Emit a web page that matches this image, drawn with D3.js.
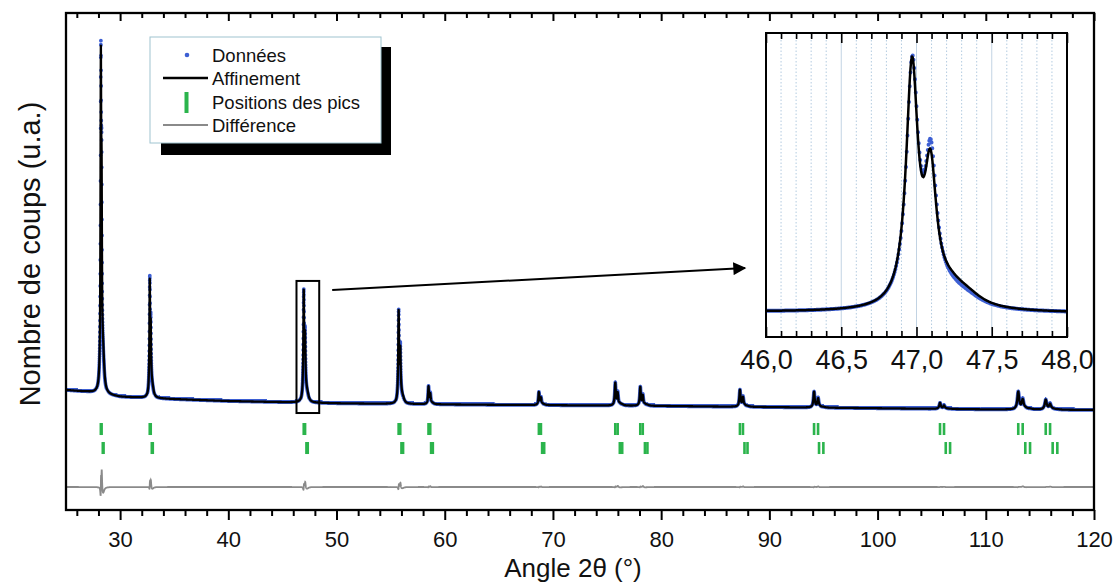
<!DOCTYPE html>
<html><head><meta charset="utf-8">
<script src="https://cdn.jsdelivr.net/npm/d3@7"></script>
<style>
body{margin:0;background:#fff}
svg text{font-family:Arial,"Liberation Sans",Helvetica,sans-serif;fill:#111}
</style>
</head><body>
<svg id="chart" width="1117" height="583"></svg>
<script>
// ---------------- data ----------------
const xTicks = [30,40,50,60,70,80,90,100,110,120];
const insetTicks = [46.0,46.5,47.0,47.5,48.0];
const insetTickLabels = ["46,0","46,5","47,0","47,5","48,0"];
// phase 1 reflections (Ka1 / Ka2), apparent heights above background (counts)
const peakPos   = [28.22,32.74,46.97,55.74,58.50,68.70,75.76,78.07,87.28,94.13,105.77,113.00,115.54];
const peakKa2   = [28.29,32.83,47.093,55.89,58.66,68.89,75.98,78.30,87.56,94.50,106.14,113.41,115.94];
const calcHeights = [9160,3140,2974,2475,475,345,605,500,450,420,160,475,265];
const obsHeights  = [9260,3220,2985,2490,480,345,610,505,450,420,160,475,265];
const peakFWHM  = [0.08,0.08,0.095,0.095,0.095,0.105,0.115,0.115,0.13,0.14,0.17,0.20,0.21];
// phase 2 reflections (second row of ticks)
const phase2Pos = [28.40,32.93,47.22,56.00,58.74,69.00,76.18,78.50,87.70,94.59,106.30,113.65,116.18];
const phase2Ka2 = [28.47,33.02,47.34,56.15,58.90,69.19,76.40,78.73,87.98,94.99,106.70,114.09,116.61];
const phase2Calc = [650,220,200,170,33,24,42,35,31,29,11,33,18];
const phase2Obs  = [490,165,150,128,25,18,32,26,23,22,8,25,14];
const phase2FWHM = [0.22,0.23,0.25,0.26,0.26,0.28,0.30,0.30,0.33,0.36,0.42,0.48,0.50];
// background anchors
const bgAngle  = [25,27,30,35,40,50,60,70,80,90,100,110,120];
const bgCounts = [790,740,610,550,500,440,410,390,370,340,310,280,265];
// refinement constants
const ka2Calc = 0.52, ka2Obs = 0.57, obsZeroShift = 0.002, stepDeg = 0.005;
const diffOffset = -1763;
// zoom box & arrow (data coordinates of the main chart)
const zoomBox = {x0:46.3, x1:48.4, c0:184, c1:3660};
const arrowFrom = [49.6, 3421], arrowTo = [87.75, 4000];
const legendItems = ["Données","Affinement","Positions des pics","Différence"];

// ---------------- model ----------------
const bg = d3.scaleLinear().domain(bgAngle).range(bgCounts);
function shape(d, w){ const u = d/(w/2); return 1/(1+u*u); }
function makeProfile(heights, ratio, p2h, shift){
  const h1 = heights.map((H,i)=>{
    const p2 = p2h[i]*(shape(peakPos[i]-phase2Pos[i],phase2FWHM[i]) + ratio*shape(peakPos[i]-phase2Ka2[i],phase2FWHM[i]));
    return (H - p2) / (1 + ratio*shape(peakKa2[i]-peakPos[i], peakFWHM[i]));
  });
  return t => {
    let s = bg(t);
    for (let i=0;i<peakPos.length;i++){
      const a = peakPos[i]+shift, b = peakKa2[i]+shift;
      if (Math.abs(t-a) < 8) s += h1[i]*(shape(t-a,peakFWHM[i]) + ratio*shape(t-b,peakFWHM[i]));
      const c = phase2Pos[i]+shift, e = phase2Ka2[i]+shift;
      if (Math.abs(t-c) < 8) s += p2h[i]*(shape(t-c,phase2FWHM[i]) + ratio*shape(t-e,phase2FWHM[i]));
    }
    return s;
  };
}
const calcF = makeProfile(calcHeights, ka2Calc, phase2Calc, 0);
const obsF  = makeProfile(obsHeights, ka2Obs, phase2Obs, obsZeroShift);
const grid = d3.range(25, 120+1e-9, stepDeg);
const pts = grid.map(t => ({t, obs: obsF(t), calc: calcF(t)}));

// ---------------- drawing ----------------
const svg = d3.select("#chart");
const L0 = 66, R0 = 1094, T0 = 13, B0 = 510;
const x = d3.scaleLinear().domain([25,120]).range([L0,R0]);
const y = d3.scaleLinear().domain([-2368,10711]).range([B0,T0]);
const BLUE = "#3d5fd3", GREEN = "#2bb44c", GRAY = "#8a8a8a";

const defs = svg.append("defs");
defs.append("clipPath").attr("id","mainClip").append("rect")
  .attr("x",L0).attr("y",T0).attr("width",R0-L0).attr("height",B0-T0);
defs.append("marker").attr("id","arrowHead").attr("viewBox","0 0 10 10")
  .attr("refX",9).attr("refY",5).attr("markerWidth",9).attr("markerHeight",6.5)
  .attr("markerUnits","strokeWidth").attr("orient","auto")
  .append("path").attr("d","M0,0 L10,5 L0,10 z").attr("fill","#000");

const plot = svg.append("g").attr("clip-path","url(#mainClip)");

// difference curve
plot.append("path").datum(pts)
  .attr("d", d3.line().x(d=>x(d.t)).y(d=>y(diffOffset + d.obs - d.calc)))
  .attr("fill","none").attr("stroke",GRAY).attr("stroke-width",1.8);

// tick marks rows
function tickRow(vals, c0, c1){
  plot.append("g").selectAll("rect").data(vals).join("rect")
    .attr("x", d => x(d)-1.3).attr("width",2.6)
    .attr("y", y(c1)).attr("height", y(c0)-y(c1))
    .attr("fill", GREEN);
}
const row1Top = (420-423)/0.038, row1Bot = (420-435)/0.038;
const row2Top = (420-442)/0.038, row2Bot = (420-454)/0.038;
tickRow(peakPos.concat(peakKa2), row1Bot, row1Top);
tickRow(phase2Pos.concat(phase2Ka2), row2Bot, row2Top);

// data dots
function dotsPath(list, sx, sy, r){
  const p = d3.path();
  list.forEach(d => { const px = sx(d.t), py = sy(d.obs); p.moveTo(px+r,py); p.arc(px,py,r,0,2*Math.PI); });
  return p.toString();
}
plot.append("path").attr("d", dotsPath(pts, x, y, 1.9)).attr("fill", BLUE);
// refinement line
plot.append("path").datum(pts)
  .attr("d", d3.line().x(d=>x(d.t)).y(d=>y(d.calc)))
  .attr("fill","none").attr("stroke","#000").attr("stroke-width",2.3).attr("stroke-linejoin","round");

// zoom box and arrow
svg.append("rect").attr("x",x(zoomBox.x0)).attr("y",y(zoomBox.c1))
  .attr("width",x(zoomBox.x1)-x(zoomBox.x0)).attr("height",y(zoomBox.c0)-y(zoomBox.c1))
  .attr("fill","none").attr("stroke","#000").attr("stroke-width",2);
svg.append("line").attr("x1",x(arrowFrom[0])).attr("y1",y(arrowFrom[1]))
  .attr("x2",x(arrowTo[0])).attr("y2",y(arrowTo[1]))
  .attr("stroke","#000").attr("stroke-width",2).attr("marker-end","url(#arrowHead)");

// main axes
const minorX = d3.range(26,120,2).filter(v=>v%10);
const gB = svg.append("g").attr("transform",`translate(0,${B0})`)
  .call(d3.axisBottom(x).tickValues(xTicks).tickSize(10).tickSizeOuter(0).tickPadding(11));
gB.selectAll("text").attr("font-size",22).attr("fill","#111");
svg.append("g").attr("transform",`translate(0,${B0})`)
  .call(d3.axisBottom(x).tickValues(minorX).tickSize(6).tickSizeOuter(0).tickFormat(""));
svg.append("g").attr("transform",`translate(0,${T0})`)
  .call(d3.axisTop(x).tickValues(xTicks).tickSize(-8).tickSizeOuter(0).tickFormat(""));
svg.append("g").attr("transform",`translate(0,${T0})`)
  .call(d3.axisTop(x).tickValues(minorX).tickSize(-5).tickSizeOuter(0).tickFormat(""));
svg.selectAll(".domain").remove();
svg.selectAll(".tick line").attr("stroke","#000").attr("stroke-width",2);
svg.append("rect").attr("x",L0).attr("y",T0).attr("width",R0-L0).attr("height",B0-T0)
  .attr("fill","none").attr("stroke","#000").attr("stroke-width",2.3);

// axis titles
svg.append("text").attr("x",573).attr("y",577).attr("text-anchor","middle")
  .attr("font-size",26).text("Angle 2θ (°)");
svg.append("text").attr("transform",`translate(40,254) rotate(-90)`)
  .attr("text-anchor","middle").attr("font-size",29).text("Nombre de coups (u.a.)");

// legend
const lg = svg.append("g");
lg.append("rect").attr("x",161).attr("y",47).attr("width",230).attr("height",108).attr("fill","#000");
lg.append("rect").attr("x",150).attr("y",37).attr("width",231).attr("height",106)
  .attr("fill","#fff").attr("stroke","#9fc4d0").attr("stroke-width",1);
const ly = [55,78,102,125];
legendItems.forEach((s,i)=>{
  lg.append("text").attr("x",212).attr("y",ly[i]).attr("dy","0.36em").attr("font-size",18.5).text(s);
});
lg.append("circle").attr("cx",187).attr("cy",ly[0]).attr("r",2.3).attr("fill",BLUE);
lg.append("line").attr("x1",163).attr("x2",208).attr("y1",ly[1]).attr("y2",ly[1]).attr("stroke","#000").attr("stroke-width",2.3);
lg.append("rect").attr("x",184.5).attr("y",92).attr("width",4).attr("height",21).attr("fill",GREEN);
lg.append("line").attr("x1",163).attr("x2",208).attr("y1",ly[3]).attr("y2",ly[3]).attr("stroke",GRAY).attr("stroke-width",2);

// ---------------- inset ----------------
const IL = 766, IR = 1067, IT = 33, IB = 337;
const ix = d3.scaleLinear().domain([46,48]).range([IL,IR]);
const iy = d3.scaleLinear().domain([172,3704]).range([IB,IT]);
const ig = svg.append("g");
defs.append("clipPath").attr("id","insetClip").append("rect")
  .attr("x",IL).attr("y",IT).attr("width",IR-IL).attr("height",IB-IT);
ig.append("rect").attr("x",IL).attr("y",IT).attr("width",IR-IL).attr("height",IB-IT).attr("fill","#fff");
const gridVals = d3.range(1,20).map(k => 46 + k*0.1);
ig.append("g").selectAll("line").data(gridVals).join("line")
  .attr("x1",d=>ix(d)).attr("x2",d=>ix(d)).attr("y1",IT).attr("y2",IB)
  .attr("stroke", (d,i)=> (i+1)%5===0 ? "#c2d3e3" : "#b3cbe0")
  .attr("stroke-width", 1)
  .attr("stroke-dasharray", (d,i)=> (i+1)%5===0 ? null : "1.5,2");
const ipts = pts.filter(d => d.t >= 45.99 && d.t <= 48.01);
const ic = ig.append("g").attr("clip-path","url(#insetClip)");
ic.append("path").attr("d", dotsPath(ipts, d=>ix(d), iy, 2.0)).attr("fill", BLUE);
ic.append("path").datum(ipts)
  .attr("d", d3.line().x(d=>ix(d.t)).y(d=>iy(d.calc)))
  .attr("fill","none").attr("stroke","#000").attr("stroke-width",2.5).attr("stroke-linejoin","round");
const iMinor = gridVals.filter((d,i)=>(i+1)%5!==0);
const gib = ig.append("g").attr("transform",`translate(0,${IB})`)
  .call(d3.axisBottom(ix).tickValues(insetTicks).tickSize(-10).tickSizeOuter(0).tickPadding(13)
        .tickFormat((d,i)=>insetTickLabels[i]));
gib.selectAll("text").attr("font-size",27).attr("fill","#111");
ig.append("g").attr("transform",`translate(0,${IB})`)
  .call(d3.axisBottom(ix).tickValues(iMinor).tickSize(-6).tickSizeOuter(0).tickFormat(""));
ig.append("g").attr("transform",`translate(0,${IT})`)
  .call(d3.axisTop(ix).tickValues(insetTicks).tickSize(-10).tickSizeOuter(0).tickFormat(""));
ig.append("g").attr("transform",`translate(0,${IT})`)
  .call(d3.axisTop(ix).tickValues(iMinor).tickSize(-6).tickSizeOuter(0).tickFormat(""));
ig.selectAll(".domain").remove();
ig.selectAll(".tick line").attr("stroke","#000").attr("stroke-width",1.6);
ig.append("rect").attr("x",IL).attr("y",IT).attr("width",IR-IL).attr("height",IB-IT)
  .attr("fill","none").attr("stroke","#000").attr("stroke-width",2);
</script>
</body></html>
